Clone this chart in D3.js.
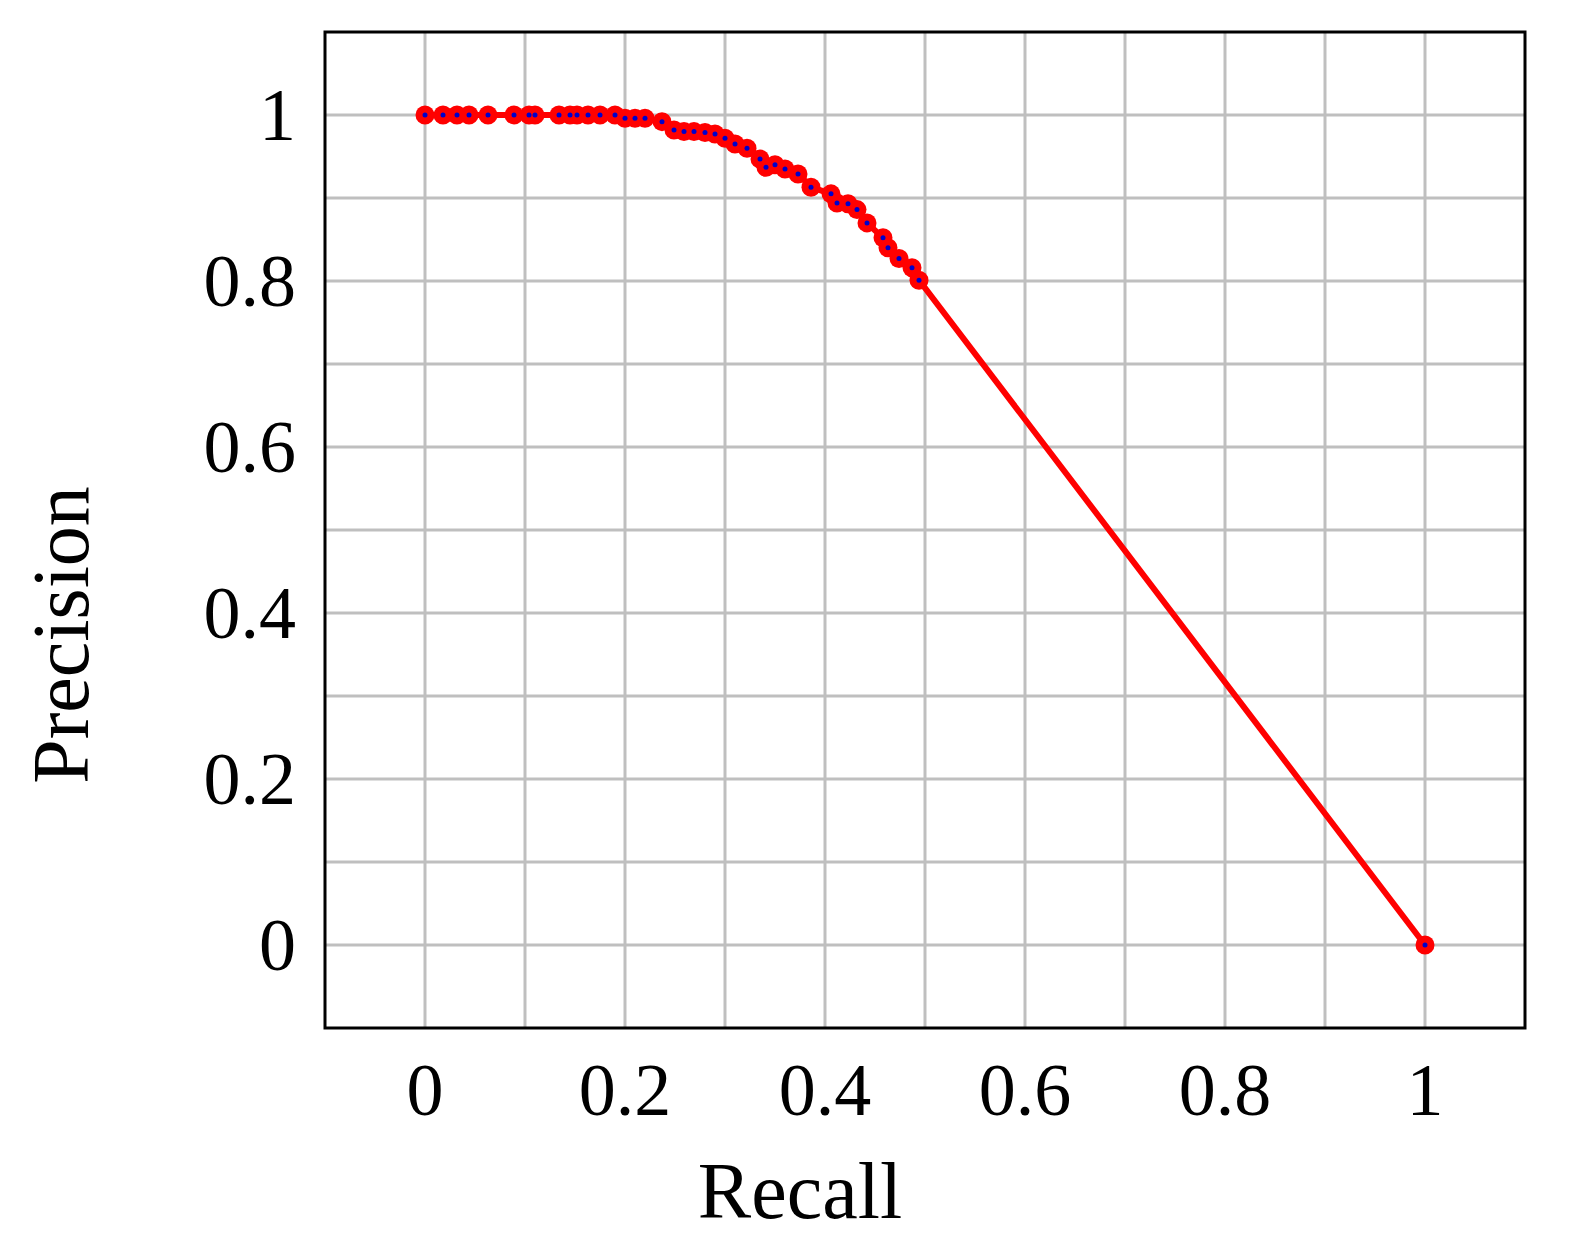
<!DOCTYPE html>
<html>
<head>
<meta charset="utf-8">
<script src="https://d3js.org/d3.v7.min.js"></script>
<style>
  body { margin: 0; background: #fff; }
  text { font-family: "Liberation Serif", serif; fill: #000; }
</style>
</head>
<body>
<svg width="1588" height="1255"></svg>
<script>
const recall = [0, 0.018, 0.032, 0.044, 0.063, 0.089, 0.104, 0.11, 0.134, 0.145, 0.152, 0.163, 0.175, 0.19, 0.2, 0.21, 0.22, 0.237,
  0.249, 0.259, 0.269, 0.28, 0.29, 0.3, 0.31, 0.322, 0.335, 0.341, 0.35, 0.36, 0.373, 0.386, 0.406, 0.412, 0.423, 0.432, 0.442,
  0.458, 0.463, 0.474, 0.487, 0.494, 1];
const precision = [1, 1, 1, 1, 1, 1, 1, 1, 1, 1, 1, 1, 1, 1, 0.996, 0.996, 0.996, 0.992,
  0.982, 0.98, 0.98, 0.979, 0.977, 0.972, 0.965, 0.96, 0.947, 0.937, 0.94, 0.935, 0.929, 0.913, 0.905, 0.894, 0.893, 0.886, 0.87,
  0.852, 0.84, 0.827, 0.816, 0.801, 0];
const ticks = [0, 0.2, 0.4, 0.6, 0.8, 1];
const gridTicks = d3.range(0, 11).map(i => i / 10);

const svg = d3.select('svg');
const x = d3.scaleLinear().domain([-0.1, 1.1]).range([325, 1525]);
const y = d3.scaleLinear().domain([-0.1, 1.1]).range([1028, 32]);
const data = recall.map((r, i) => ({ r, p: precision[i] }));

const grid = svg.append('g').attr('stroke', '#bfbfbf').attr('stroke-width', 3);
grid.selectAll('.gx').data(gridTicks).enter().append('line')
  .attr('x1', d => x(d)).attr('x2', d => x(d)).attr('y1', 32).attr('y2', 1028);
grid.selectAll('.gy').data(gridTicks).enter().append('line')
  .attr('y1', d => y(d)).attr('y2', d => y(d)).attr('x1', 325).attr('x2', 1525);

svg.append('path').datum(data)
  .attr('fill', 'none').attr('stroke', '#ff0000').attr('stroke-width', 6)
  .attr('d', d3.line().x(d => x(d.r)).y(d => y(d.p)));
svg.selectAll('.m').data(data).enter().append('circle')
  .attr('cx', d => x(d.r)).attr('cy', d => y(d.p)).attr('r', 9.5).attr('fill', '#ff0000');
svg.selectAll('.c').data(data).enter().append('circle')
  .attr('cx', d => x(d.r)).attr('cy', d => y(d.p)).attr('r', 2.5).attr('fill', '#0000cc');

svg.append('rect').attr('x', 325).attr('y', 32).attr('width', 1200).attr('height', 996)
  .attr('fill', 'none').attr('stroke', '#000').attr('stroke-width', 3);

svg.selectAll('.xt').data(ticks).enter().append('text')
  .attr('x', d => x(d)).attr('y', 1115).attr('text-anchor', 'middle')
  .style('font-size', '74px').text(d => d3.format('~g')(d));
svg.selectAll('.yt').data(ticks).enter().append('text')
  .attr('x', 296).attr('y', d => y(d) + 25).attr('text-anchor', 'end')
  .style('font-size', '74px').text(d => d3.format('~g')(d));

svg.append('text').attr('x', 800).attr('y', 1218).attr('text-anchor', 'middle')
  .style('font-size', '80px').text('Recall');
svg.append('text').attr('transform', 'translate(88,635) rotate(-90)').attr('text-anchor', 'middle')
  .style('font-size', '80px').text('Precision');
</script>
</body>
</html>
